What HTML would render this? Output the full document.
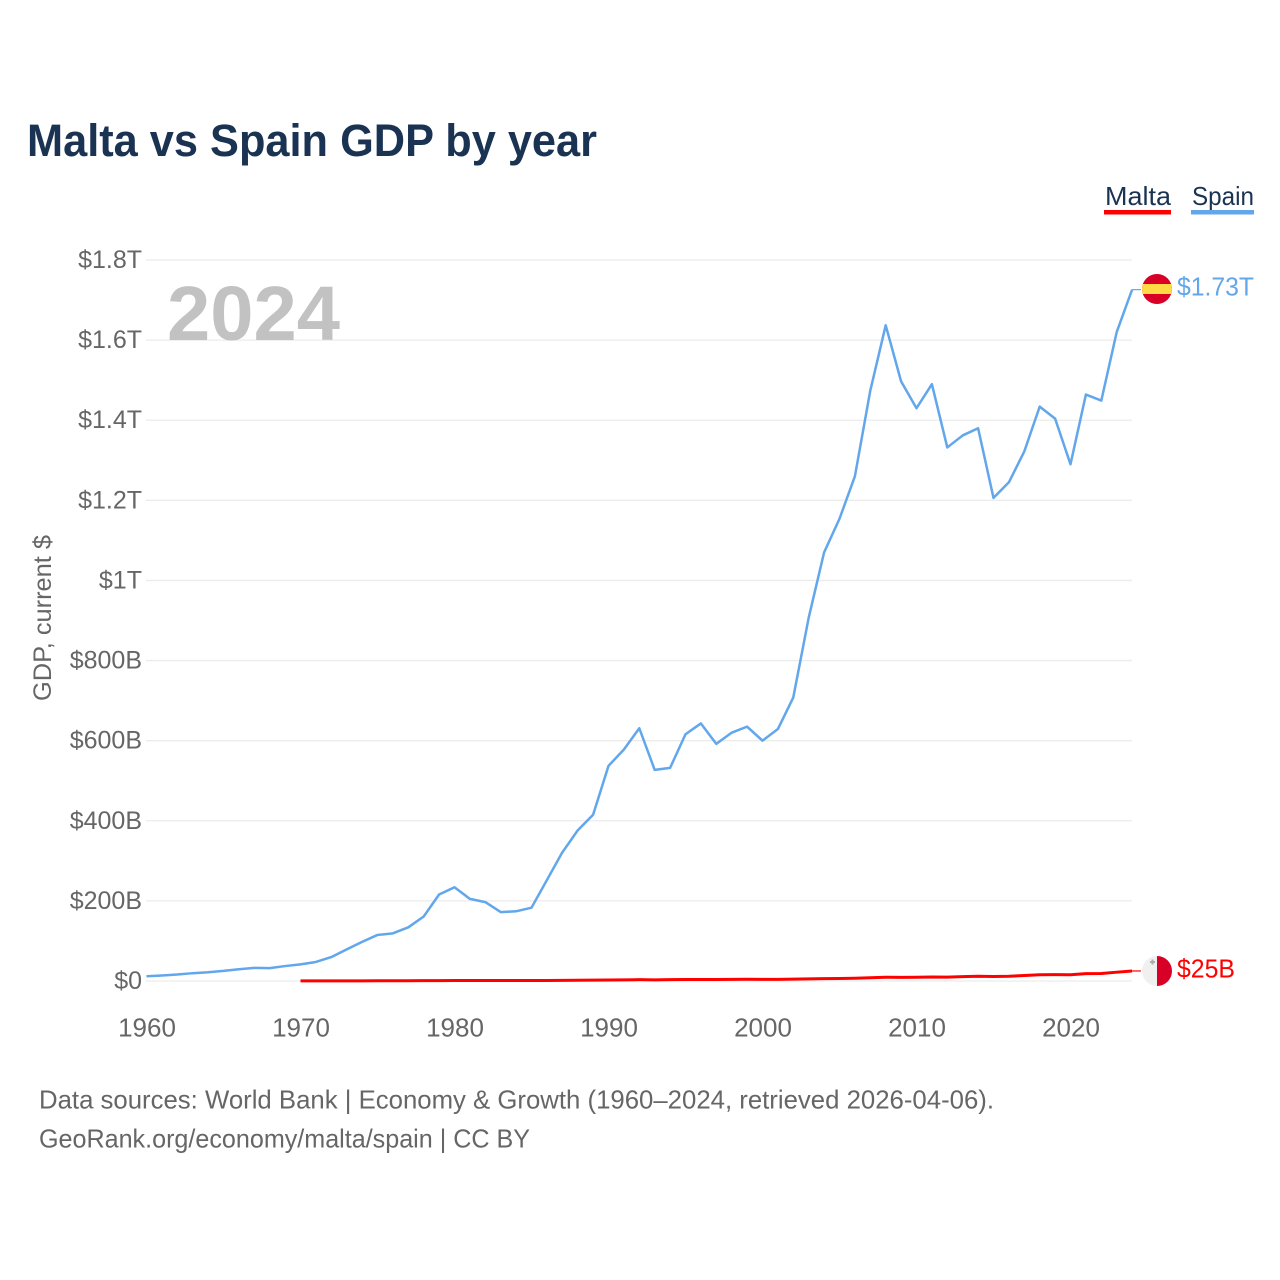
<!DOCTYPE html>
<html lang="en">
<head>
<meta charset="utf-8">
<title>Malta vs Spain GDP by year</title>
<style>
  html, body { margin: 0; padding: 0; background: #fff; }
  svg { display: block; font-family: "Liberation Sans", sans-serif; }
</style>
</head>
<body>
<svg id="chart" xmlns="http://www.w3.org/2000/svg" width="1280" height="1280" viewBox="0 0 1280 1280">
  <rect x="0" y="0" width="1280" height="1280" fill="#ffffff"/>
  <defs>
    <clipPath id="flag-clip-spain"><circle cx="1157" cy="289" r="15"/></clipPath>
    <clipPath id="flag-clip-malta"><circle cx="1157" cy="971" r="15"/></clipPath>
  </defs>
  <text x="27" y="156" font-size="45" font-weight="700" fill="#1a3353" textLength="570" lengthAdjust="spacingAndGlyphs">Malta vs Spain GDP by year</text>

  <g>
    <g>
      <text x="1105" y="205" font-size="26" fill="#1a3353" textLength="66" lengthAdjust="spacingAndGlyphs">Malta</text>
      <rect x="1104" y="210" width="67" height="4.5" fill="#ff0000"/>
    </g>
    <g>
      <text x="1192" y="205" font-size="26" fill="#1a3353" textLength="62" lengthAdjust="spacingAndGlyphs">Spain</text>
      <rect x="1191" y="210" width="63" height="4.5" fill="#62a6ec"/>
    </g>
  </g>

  <g id="grid"></g>
  <g id="y-ticks"></g>
  <g id="x-ticks"></g>

  <text transform="translate(51 618) rotate(-90)" text-anchor="middle" font-size="25" fill="#666666" textLength="166" lengthAdjust="spacingAndGlyphs">GDP, current $</text>
  <text x="167" y="340" font-size="77" font-weight="700" fill="#c2c2c2" textLength="173" lengthAdjust="spacingAndGlyphs">2024</text>

  <g id="series"></g>

  <g clip-path="url(#flag-clip-spain)">
    <rect x="1142" y="274" width="30" height="30" fill="#d80027"/>
    <rect x="1142" y="284" width="30" height="10" fill="#ffda44"/>
  </g>
  <g clip-path="url(#flag-clip-malta)">
    <rect x="1142" y="956" width="15" height="30" fill="#f0f0f0"/>
    <rect x="1157" y="956" width="15" height="30" fill="#d80027"/>
    <path d="M1150 961h1.5v-1.5h2v1.5h1.500v2h-1.500v1.500h-2v-1.500h-1.500z" fill="#acabb1"/>
  </g>
  <text x="1177" y="295.500" font-size="26" fill="#62a6ec" textLength="77" lengthAdjust="spacingAndGlyphs">$1.73T</text>
  <text x="1177" y="977.500" font-size="26" fill="#ff0000" textLength="58" lengthAdjust="spacingAndGlyphs">$25B</text>

  <text x="39" y="1108.500" font-size="26" fill="#666666" textLength="955" lengthAdjust="spacingAndGlyphs">Data sources: World Bank | Economy &amp; Growth (1960–2024, retrieved 2026-04-06).</text>
  <a><text x="39" y="1147.500" font-size="26" fill="#666666" textLength="491" lengthAdjust="spacingAndGlyphs">GeoRank.org/economy/malta/spain | CC BY</text></a>
</svg>
<script>
// Chart data (GDP in billions of current US$)
const firstYear = 1960;
const spainGdp = [12, 13.8, 16.1, 19.5, 21.9, 25.2, 29.4, 32.7, 32.2, 37.3,
  41.4, 47.5, 59.7, 79, 97.8, 115, 119, 134, 161, 216,
  234, 205, 197, 172, 174, 183, 252, 321, 376, 415,
  537, 578, 631, 527, 532, 616, 643, 592, 620, 635,
  600, 629, 708, 907, 1070, 1154, 1260, 1474, 1637, 1497,
  1430, 1490, 1332, 1362, 1380, 1206, 1245, 1322, 1434, 1404,
  1290, 1464, 1449, 1620, 1726];
const maltaFirstYear = 1970;
const maltaGdp = [0.25, 0.28, 0.32, 0.39, 0.42, 0.55, 0.62, 0.72, 0.9, 1.0,
  1.2, 1.2, 1.2, 1.2, 1.1, 1.1, 1.4, 1.6, 2.0, 2.2,
  2.6, 2.9, 3.3, 2.9, 3.4, 3.9, 3.9, 3.9, 4.1, 4.3,
  4.0, 4.2, 4.6, 5.4, 6.0, 6.4, 6.9, 8.1, 9.5, 9.0,
  9.2, 10.0, 9.6, 10.8, 12.0, 11.3, 11.9, 13.6, 15.6, 15.9,
  15.7, 18.4, 18.6, 22.0, 25.0];
const yTickValues = [0, 200, 400, 600, 800, 1000, 1200, 1400, 1600, 1800];
const yTickLabels = ["$0", "$200B", "$400B", "$600B", "$800B", "$1T", "$1.2T", "$1.4T", "$1.6T", "$1.8T"];
const xTickYears = [1960, 1970, 1980, 1990, 2000, 2010, 2020];

// Axis functions
const SVG_NS = "http://www.w3.org/2000/svg";
const xAxis = (year) => 146.5 + (year - 1960) * 15.4;
const yAxis = (gdp) => 981 - gdp * 0.40056;

function svgEl(tag, parent) {
  const el = document.createElementNS(SVG_NS, tag);
  parent.appendChild(el);
  return el;
}

const gridGroup = document.getElementById("grid");
const yTickGroup = document.getElementById("y-ticks");
const xTickGroup = document.getElementById("x-ticks");
const seriesGroup = document.getElementById("series");

yTickValues.forEach((value, i) => {
  const line = svgEl("line", gridGroup);
  
  
  line.setAttribute("x1", 146);
  line.setAttribute("x2", 1132);
  line.setAttribute("y1", yAxis(value));
  line.setAttribute("y2", yAxis(value));
  line.setAttribute("stroke", "#ececec");
  line.setAttribute("stroke-width", 1.3);

  const label = svgEl("text", yTickGroup);
  
  
  label.setAttribute("x", 142);
  label.setAttribute("y", yAxis(value) + 8);
  label.setAttribute("text-anchor", "end");
  label.setAttribute("font-size", 25);
  label.setAttribute("fill", "#666666");
  label.textContent = yTickLabels[i];
});

xTickYears.forEach((year) => {
  const label = svgEl("text", xTickGroup);
  
  
  label.setAttribute("x", xAxis(year) + 0.5);
  label.setAttribute("y", 1036.5);
  label.setAttribute("text-anchor", "middle");
  label.setAttribute("font-size", 26);
  label.setAttribute("fill", "#666666");
  label.textContent = String(year);
});

function buildPoints(values, startYear) {
  return values.map((v, i) => xAxis(startYear + i).toFixed(2) + "," + yAxis(v).toFixed(2));
}

const spainPoints = buildPoints(spainGdp, firstYear);
const spainLast = yAxis(spainGdp[spainGdp.length - 1]);
const spainLine = svgEl("polyline", seriesGroup);


spainLine.setAttribute("points", spainPoints.join(" "));
spainLine.setAttribute("fill", "none");
spainLine.setAttribute("stroke", "#62a6ec");
spainLine.setAttribute("stroke-width", 2.5);
spainLine.setAttribute("stroke-linejoin", "round");

const spainConnector = svgEl("line", seriesGroup);


spainConnector.setAttribute("x1", xAxis(2024));
spainConnector.setAttribute("y1", spainLast);
spainConnector.setAttribute("x2", 1141);
spainConnector.setAttribute("y2", spainLast);
spainConnector.setAttribute("stroke", "#62a6ec");
spainConnector.setAttribute("stroke-width", 1.2);

const maltaPoints = buildPoints(maltaGdp, maltaFirstYear);
const maltaLast = yAxis(maltaGdp[maltaGdp.length - 1]);
const maltaLine = svgEl("polyline", seriesGroup);


maltaLine.setAttribute("points", maltaPoints.join(" "));
maltaLine.setAttribute("fill", "none");
maltaLine.setAttribute("stroke", "#ff0000");
maltaLine.setAttribute("stroke-width", 3);
maltaLine.setAttribute("stroke-linejoin", "round");

const maltaConnector = svgEl("line", seriesGroup);


maltaConnector.setAttribute("x1", xAxis(2024));
maltaConnector.setAttribute("y1", maltaLast);
maltaConnector.setAttribute("x2", 1141);
maltaConnector.setAttribute("y2", maltaLast);
maltaConnector.setAttribute("stroke", "#ff0000");
maltaConnector.setAttribute("stroke-width", 1.2);
</script>
</body>
</html>
